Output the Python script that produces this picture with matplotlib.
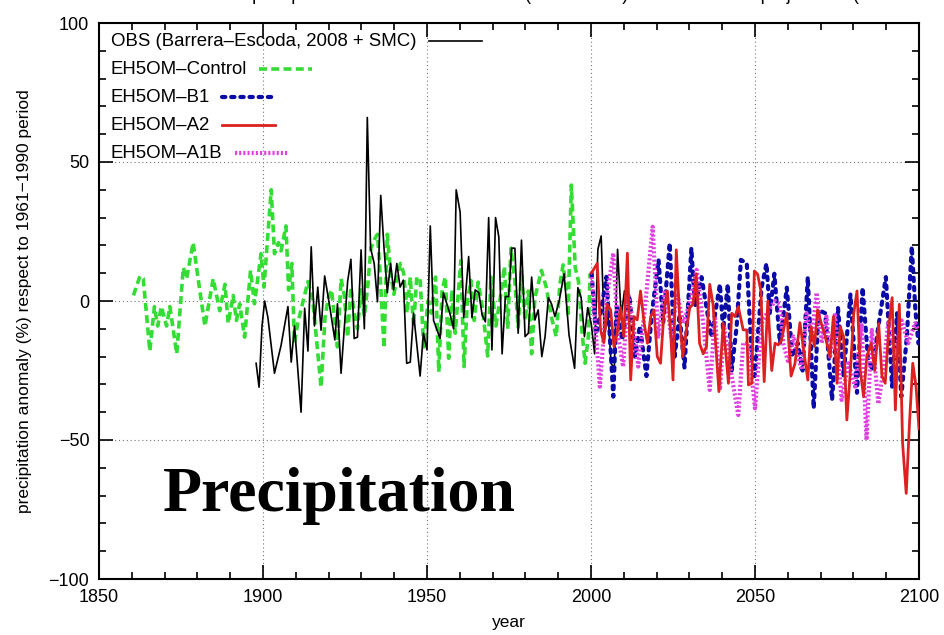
import matplotlib
matplotlib.use("Agg")
import matplotlib.pyplot as plt
from matplotlib.ticker import MultipleLocator

plt.rcParams["font.family"] = ["Liberation Sans", "DejaVu Sans"]

# %%
# values (year, % anomaly vs 1961-1990)
obs_years = [1897.9, 1898.8, 1899.7, 1900.5, 1901.5, 1903.5, 1905.5, 1907.6, 1908.6, 1909.6,
             1911.6, 1912.7, 1913.7, 1914.7, 1915.7, 1916.7, 1917.7, 1918.8, 1920.4, 1921.9,
             1922.7, 1923.8, 1925.8, 1926.8, 1927.8, 1928.8, 1929.9, 1930.9, 1931.8, 1932.8,
             1933.9, 1934.9, 1935.9, 1936.9, 1937.9, 1938.9, 1939.8, 1940.8, 1941.8, 1942.8,
             1943.8, 1944.9, 1945.9, 1947.9, 1948.9, 1950.0, 1951.0, 1952.0, 1954.0, 1955.0,
             1957.1, 1958.1, 1958.9, 1960.1, 1961.2, 1962.7, 1963.7, 1964.7, 1965.8, 1966.8,
             1967.8, 1968.8, 1969.8, 1970.9, 1971.9, 1972.9, 1973.9, 1974.9, 1975.8, 1976.8,
             1977.8, 1978.8, 1979.9, 1980.9, 1981.9, 1982.9, 1983.9, 1985.0, 1986.0, 1987.0,
             1988.0, 1989.0, 1990.3, 1991.8, 1993.3, 1995.0, 1996.0, 1997.0, 1998.0, 1999.0,
             2000.1, 2001.1, 2002.1, 2003.1, 2004.1, 2005.1, 2006.1, 2007.1, 2008.1, 2009.2,
             2010.2]
obs_vals = [-22.4, -31, -9, 0, -6, -26, -16, -2, -22, -9,
            -40, -2.6, -18, 19.5, -9, 5, -10.5, 9, -2.4, -14,
            -1, -26, 7, 15, -13.5, -13, 18.4, -10, 66, 19,
            13.5, -0.3, 38, 19, 3, 13.5, 4, 13.5, 5, 7.5,
            -22.4, -22, -4.4, -27, -11.6, -17.6, 27, -7, -13.5, 3,
            -5, -10, 40, 32, -6, 16, -6, 4, 3, -5,
            -7.5, 30, -17.6, 30, 23, -19, 1.6, 1.6, 19, 19,
            -11.6, 21.9, -12.8, -11.6, 8.6, -6.8, -3.2, -20, -12.8, 1.2,
            -1.2, -5.6, 0, 9.8, -12.2, -24.2, 4.8, 1.2, -12.8, -2.4,
            -8.4, -19, 18.6, 23.4, -14, -2.4, -22.4, -24.2, 18.6, -5.6,
            3.6]

ctl_years = [1860.5, 1862.5, 1863.5, 1865.5, 1866.9, 1867.9, 1869.0, 1870.6, 1871.6, 1873.7,
             1875.7, 1876.7, 1878.7, 1880.7, 1882.3, 1884.8, 1886.8, 1888.4, 1889.4, 1890.9,
             1891.9, 1892.9, 1894.4, 1896.2, 1897.4, 1899.4, 1900.3, 1902.5, 1903.5, 1904.7,
             1905.5, 1907.0, 1907.8, 1908.8, 1909.6, 1910.6, 1913.7, 1915.2, 1917.7, 1918.9,
             1919.9, 1920.9, 1922.7, 1923.8, 1924.8, 1925.8, 1926.8, 1927.8, 1928.8, 1929.9,
             1930.9, 1931.9, 1932.9, 1933.9, 1934.9, 1935.6, 1936.9, 1937.9, 1938.9, 1939.9,
             1940.9, 1941.9, 1942.9, 1943.9, 1944.9, 1945.9, 1946.9, 1947.9, 1949.0, 1950.3,
             1951.3, 1952.6, 1953.6, 1954.6, 1955.6, 1956.6, 1957.6, 1958.6, 1960.3, 1961.3,
             1962.3, 1963.4, 1964.4, 1965.6, 1966.9, 1968.5, 1969.5, 1971.0, 1972.5, 1973.6,
             1974.6, 1975.6, 1976.8, 1977.8, 1978.8, 1979.9, 1980.9, 1981.9, 1982.9, 1984.9,
             1986.4, 1987.9, 1989.4, 1990.5, 1991.5, 1992.5, 1993.0, 1994.0, 1995.2, 1996.2,
             1997.2, 1998.2, 1999.2, 1999.7]
ctl_vals = [2, 9, 8, -18, -2, -9, -2, -9, -2, -19,
            12, 8, 21, 4, -9, 8, -3.5, 6, -8, 2,
            -7, -1, -13, 11, -1, 17, 5, 40, 17, 21,
            18, 27, 4, 13.5, -15, -8, 7, 0, -31, -6,
            1, 4, -16.5, 8, 2, -13, 5, -4.4, -10, 4,
            -5.6, 5, 19, 22, 24, 12, -17, 24, 10, 2.4,
            8.6, 13.5, 10, -4.4, 8.6, -9, 8.6, 8, -16.5, 0,
            -4.4, 8.6, -25.5, 4, 8.6, -20.6, 4, -11.6, 14.5, -23.6,
            0, 7.4, -7, 6.8, -2.4, -19.8, 8.6, -9, 2.4, 12.4,
            -10, 19, 7, -9.4, 11, -7, 3.6, -19, 1.2, 11,
            4.8, -5.6, -12.8, 6, 13, 3.6, -5.6, 41.7, 12, 7,
            -10.4, -22.4, -12.8, 9.8]

b1_years = [2000.2, 2001.5, 2003.0, 2004.7, 2006.8, 2007.8, 2009.5, 2011.7, 2013.4, 2014.9,
            2016.9, 2018.5, 2020.6, 2022.0, 2024.0, 2025.5, 2027.0, 2028.5, 2030.6, 2031.7,
            2033.7, 2036.7, 2038.3, 2039.3, 2040.3, 2041.7, 2042.9, 2044.4, 2045.7, 2047.5,
            2049.0, 2049.9, 2052.0, 2053.5, 2054.5, 2055.9, 2057.6, 2059.7, 2061.4, 2063.0,
            2064.5, 2066.1, 2067.9, 2069.4, 2071.4, 2073.5, 2075.3, 2077.0, 2079.1, 2081.1,
            2082.8, 2084.4, 2085.8, 2087.5, 2089.9, 2091.8, 2093.3, 2094.6, 2096.3, 2097.8,
            2098.9, 2099.8]
b1_vals = [10, -12, -4, 8.7, -34.4, -2, -14, 2, -20, -9,
           -27, -5, 14.8, -8, 20.8, -20, -5, -24, 19, -2,
           8.6, -13, -1.2, 6, -10.4, 6, -25, -9.2, 14.8, 13.5,
           -20, -27, 4.8, 13.5, -4.4, 9.8, -15.2, 4.8, -20, -15,
           -25, 8.6, -38.6, -3.2, -4.4, -35.6, -2.4, -27, 2.4, -33,
           4.8, -20, -25, -10, 8.6, -30.8, -4.4, -34.4, -12.8, 19.6,
           -3.2, -15.2]

a2_years = [2000.1, 2001.9, 2002.9, 2003.9, 2004.9, 2006.0, 2007.0, 2008.0, 2009.0, 2010.0,
            2011.1, 2012.1, 2013.1, 2014.1, 2015.1, 2016.2, 2017.2, 2018.2, 2019.2, 2020.2,
            2021.2, 2022.3, 2023.3, 2024.3, 2025.0, 2026.0, 2027.0, 2028.0, 2029.1, 2030.1,
            2031.1, 2032.1, 2033.1, 2034.2, 2035.2, 2036.2, 2037.2, 2039.0, 2040.3, 2041.9,
            2042.9, 2043.9, 2044.9, 2046.4, 2047.5, 2048.0, 2049.0, 2049.8, 2050.8, 2051.8,
            2052.8, 2053.9, 2055.1, 2056.1, 2057.1, 2058.1, 2059.7, 2061.0, 2062.2, 2063.7,
            2065.1, 2066.1, 2067.1, 2068.1, 2069.1, 2070.2, 2071.4, 2072.9, 2073.9, 2075.0,
            2076.0, 2077.0, 2078.0, 2079.1, 2080.1, 2081.1, 2082.1, 2083.1, 2084.1, 2085.4,
            2086.5, 2087.7, 2088.7, 2089.7, 2090.8, 2091.8, 2092.8, 2094.0, 2095.0, 2096.1,
            2097.1, 2098.1, 2099.1, 2100.0]
a2_vals = [10, 13.5, -10.4, -15, -1.2, -3.2, -16.4, -11.6, -2.4, -12.8,
           17.2, -28.4, -5.6, -6.8, 3.6, -8, -15.2, -5.6, -3.2, -20,
           -22.4, -3.2, 3.6, -11.6, -28.4, 18.4, -5.6, -20, -10.4, -2.4,
           -1.2, 9.8, -15.2, -19, -16.4, 6, -1.2, -32.6, -8, -29.6,
           -4.4, -5.6, -2, -10.4, -10.4, -30.2, -29.6, 10.8, 9.6, 3.6,
           -29, 0, -25, -15.2, -15.8, -14, -4.4, -27, -22.4, -7.8,
           -20, -28.4, -9.2, -16.4, -3.2, -8, -12.8, -20, -5.6, -29.6,
           -9.2, -12.8, -42.8, -25, -4.4, 3.6, -25, -34.4, -20, -15.2,
           -25, -8, -27, -29.6, -9.2, 1.2, -39.2, -1.2, -51.2, -69.2,
           -44, -22.4, -30.8, -46]

a1b_years = [2000.2, 2002.7, 2004.7, 2006.8, 2008.3, 2009.8, 2011.3, 2012.9, 2014.4, 2016.4,
             2018.8, 2020.5, 2022.5, 2024.5, 2026.3, 2028.1, 2030.1, 2032.2, 2034.2, 2036.2,
             2037.8, 2039.3, 2040.6, 2042.4, 2044.9, 2046.4, 2048.0, 2050.0, 2052.0, 2054.0,
             2056.1, 2057.6, 2058.6, 2060.2, 2061.7, 2064.2, 2065.7, 2067.3, 2068.8, 2070.3,
             2071.8, 2072.9, 2074.4, 2076.4, 2078.5, 2080.5, 2082.5, 2084.0, 2085.6, 2087.6,
             2089.1, 2090.6, 2092.7, 2094.7, 2096.7, 2098.8, 2099.8]
a1b_vals = [8.6, -30.8, 0.4, 17.2, -12.8, -23.6, 2.8, -8, -23.6, -3.2,
            26.7, -12.8, 4, -12.8, 2.8, -8, -0.8, 11.2, -8, -32,
            -5.6, -32, -9.2, -23.6, -41, -15.2, -15.2, -38.6, -8, -3.6,
            0, -1.2, -15.2, -22.4, -12.8, -24.8, -4.4, -12.8, 3, -15.2,
            -5.6, -20, -4.4, -35.6, -22.4, -30.8, -8, -50, -10.4, -37,
            -24.8, -8, -20, -7, -15.2, -8, -10.4]

labels = ["OBS (Barrera\u2013Escoda, 2008 + SMC)", "EH5OM\u2013Control", "EH5OM\u2013B1",
          "EH5OM\u2013A2", "EH5OM\u2013A1B"]

styles = [
    dict(color="black", lw=1.2, ls="-"),
    dict(color="#33dd33", lw=2.6, ls=(0, (2.2, 1.2))),
    dict(color="#0a0aa8", lw=3.0, ls=(0, (0.8, 1.4)), dash_capstyle="round"),
    dict(color="#dd2020", lw=2.0, ls="-"),
    dict(color="#e040e0", lw=3.0, ls=(0, (0.5, 0.5))),
]

# %%
fig = plt.figure(figsize=(9.45, 6.35), dpi=100)
ax = fig.add_axes([99 / 945, 1 - 579 / 635, 820 / 945, 556 / 635])

ax.plot(ctl_years, ctl_vals, zorder=2, **styles[1])
ax.plot(obs_years, obs_vals, zorder=3, **styles[0])
ax.plot(b1_years, b1_vals, zorder=4, **styles[2])
ax.plot(a1b_years, a1b_vals, zorder=5, **styles[4])
ax.plot(a2_years, a2_vals, zorder=6, **styles[3])

ax.set_xlim(1850, 2100)
ax.set_ylim(-100, 100)
ax.xaxis.set_major_locator(MultipleLocator(50))
ax.xaxis.set_minor_locator(MultipleLocator(10))
ax.yaxis.set_major_locator(MultipleLocator(50))
ax.yaxis.set_minor_locator(MultipleLocator(10))
ax.tick_params(which="both", direction="in", top=True, right=True, width=1.2,
               labelsize=13, pad=7)
ax.tick_params(which="major", length=10)
ax.tick_params(which="minor", length=5)
ax.grid(which="major", color="#777777", lw=0.8, ls=(0, (1, 2.5)))
for sp in ax.spines.values():
    sp.set_linewidth(1.5)

ax.set_xlabel("year", fontsize=12.5, labelpad=7)
ax.set_ylabel("precipitation anomaly (%) respect to 1961\u22121990 period", fontsize=12.5,
              labelpad=12)

# title sits above the top edge, only its descenders show (as in the reference)
fig.text(191 / 945, 1 + 0.5 / 635,
         "Annual precipitation anomalies relative to (1961\u22121990) and the climate "
         "projections (2001\u22122100)",
         ha="left", va="baseline", fontsize=13)

ax.text(0.078, 0.122, "Precipitation", transform=ax.transAxes, fontsize=46,
        fontweight="bold", family="Liberation Serif", va="baseline")

# key: sample line right after each label
key_texts = []
for i, lab in enumerate(labels):
    t = ax.text(12 / 820, 1 - (18 + 28 * i) / 556, lab, transform=ax.transAxes,
                fontsize=13.4, va="center", ha="left", zorder=8)
    key_texts.append(t)
fig.canvas.draw()
renderer = fig.canvas.get_renderer()
inv = ax.transAxes.inverted()
for t, st in zip(key_texts, styles):
    bb = t.get_window_extent(renderer)
    ymid = (bb.y0 + bb.y1) / 2
    (xa, ya), (xb, _) = inv.transform([(bb.x1 + 12, ymid), (bb.x1 + 65, ymid)])
    ax.plot([xa, xb], [ya, ya], transform=ax.transAxes, clip_on=False, zorder=8, **st)

fig.savefig("out.png", dpi=100)
